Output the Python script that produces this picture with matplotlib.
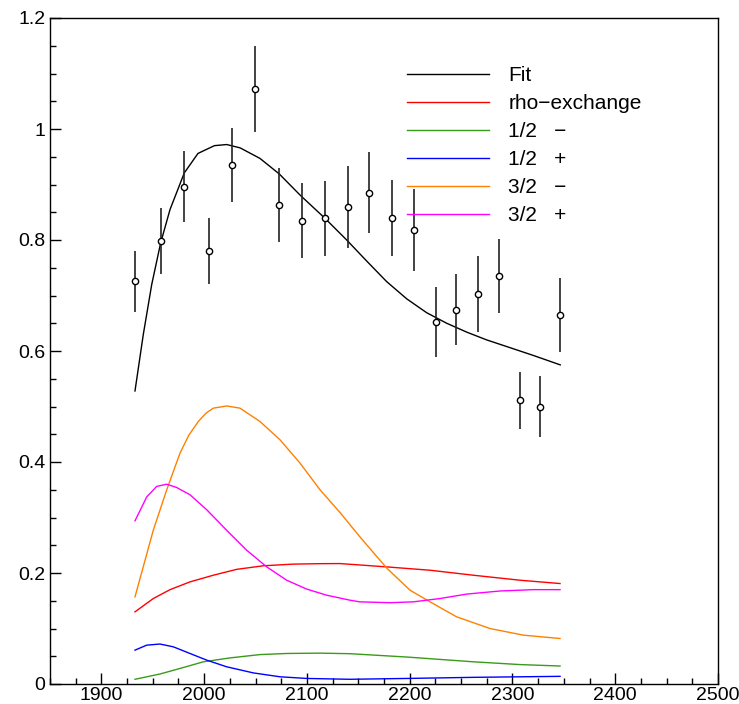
import matplotlib.pyplot as plt
import numpy as np
from matplotlib.ticker import MultipleLocator

plt.rcParams['font.family'] = ['Liberation Sans', 'DejaVu Sans']

# data points with errors
mass = [1932.7, 1957.7, 1980.7, 2004.4, 2027.4, 2049.5, 2073.1, 2094.9, 2117.6, 2139.7,
        2160.7, 2182.8, 2203.9, 2225.3, 2245.4, 2266.2, 2287.2, 2307.0, 2327.1, 2346.5]
value = [0.726, 0.798, 0.896, 0.780, 0.935, 1.072, 0.863, 0.835, 0.839, 0.860,
         0.885, 0.840, 0.818, 0.652, 0.674, 0.703, 0.735, 0.511, 0.500, 0.665]
error = [0.055, 0.060, 0.064, 0.060, 0.067, 0.077, 0.067, 0.068, 0.068, 0.074,
         0.073, 0.068, 0.073, 0.063, 0.064, 0.068, 0.067, 0.051, 0.055, 0.066]

# fit curve
fit_x = [1932.7, 1940.8, 1949.0, 1957.7, 1966.8, 1980.7, 1994.0, 2010.0, 2022.0, 2035.0,
         2054.3, 2073.1, 2093.3, 2117.6, 2138.7, 2158.2, 2177.6, 2197.1, 2216.5, 2236.0,
         2255.5, 2274.9, 2294.4, 2320.3, 2346.5]
fit_y = [0.528, 0.630, 0.720, 0.795, 0.855, 0.921, 0.956, 0.970, 0.972, 0.966,
         0.947, 0.919, 0.881, 0.839, 0.800, 0.762, 0.725, 0.694, 0.669, 0.650,
         0.634, 0.620, 0.608, 0.592, 0.575]

# rho-exchange
rho_x = [1932.7, 1950.5, 1966.8, 1986.2, 2008.9, 2031.7, 2057.6, 2086.7, 2112.7, 2132.2,
         2177.6, 2219.8, 2261.9, 2307.3, 2346.3]
rho_y = [0.130, 0.154, 0.170, 0.184, 0.196, 0.2066, 0.213, 0.216, 0.2168, 0.217,
         0.211, 0.205, 0.196, 0.187, 0.181]

# 1/2 -
g_x = [1932.7, 1957.0, 1976.5, 1999.2, 2025.1, 2054.3, 2080.3, 2112.7, 2141.9, 2197.1,
       2261.9, 2307.3, 2346.3]
g_y = [0.0085, 0.018, 0.028, 0.040, 0.047, 0.053, 0.055, 0.0556, 0.0546, 0.0486,
       0.040, 0.035, 0.0324]

# 1/2 +
b_x = [1932.7, 1944.1, 1957.0, 1970.0, 1986.2, 2002.5, 2021.9, 2047.8, 2073.8, 2099.8,
       2141.9, 2197.1, 2261.9, 2346.3]
b_y = [0.061, 0.070, 0.072, 0.067, 0.055, 0.043, 0.031, 0.020, 0.013, 0.010,
       0.0085, 0.010, 0.012, 0.0138]

# 3/2 -
o_x = [1932.7, 1950.5, 1963.6, 1976.5, 1985.0, 1994.3, 2001.8, 2008.9, 2021.9, 2034.9,
       2054.3, 2073.8, 2093.3, 2112.7, 2132.2, 2151.6, 2177.6, 2200.3, 2219.8, 2245.7,
       2278.1, 2310.6, 2346.3]
o_y = [0.157, 0.277, 0.350, 0.416, 0.448, 0.473, 0.488, 0.497, 0.501, 0.497,
       0.473, 0.440, 0.398, 0.350, 0.309, 0.265, 0.209, 0.169, 0.148, 0.121,
       0.100, 0.088, 0.082]

# 3/2 +
m_x = [1932.7, 1944.1, 1953.8, 1963.6, 1973.3, 1986.2, 2002.5, 2021.9, 2041.4, 2060.9,
       2080.3, 2099.8, 2119.2, 2141.9, 2151.6, 2180.8, 2203.5, 2229.5, 2255.5, 2287.9,
       2320.3, 2346.3]
m_y = [0.294, 0.337, 0.356, 0.360, 0.354, 0.341, 0.314, 0.277, 0.241, 0.211,
       0.187, 0.171, 0.160, 0.151, 0.148, 0.1465, 0.148, 0.154, 0.162, 0.1676,
       0.170, 0.170]

fig = plt.figure(figsize=(7.39, 7.04), dpi=100)
ax = fig.add_axes([50 / 739, 20 / 704, 668 / 739, 666 / 704])

lw = 1.0
lines = []
lines.append(ax.plot(fit_x, fit_y, color="black", lw=lw, label="Fit")[0])
lines.append(ax.plot(rho_x, rho_y, color="#ff0000", lw=lw, label="rho\u2212exchange")[0])
lines.append(ax.plot(g_x, g_y, color="#3a9a1a", lw=lw, label="1/2   \u2212")[0])
lines.append(ax.plot(b_x, b_y, color="#0000ff", lw=lw, label="1/2   +")[0])
lines.append(ax.plot(o_x, o_y, color="#ff8000", lw=lw, label="3/2   \u2212")[0])
lines.append(ax.plot(m_x, m_y, color="#ff00ff", lw=lw, label="3/2   +")[0])

ax.errorbar(mass, value, yerr=error, fmt="o", color="black", ecolor="#222222",
            elinewidth=1.2, capsize=0, ms=4.5, mfc="white", mec="black", mew=1.0, zorder=5)

ax.set_xlim(1850, 2500)
ax.set_ylim(0, 1.2)
ax.xaxis.set_major_locator(MultipleLocator(100))
ax.xaxis.set_minor_locator(MultipleLocator(25))
ax.yaxis.set_major_locator(MultipleLocator(0.2))
ax.yaxis.set_minor_locator(MultipleLocator(0.05))
ax.set_yticks([0, 0.2, 0.4, 0.6, 0.8, 1.0, 1.2])
ax.set_yticklabels(["0", "0.2", "0.4", "0.6", "0.8", "1", "1.2"])
ax.tick_params(which="both", direction="in", labelsize=14, width=1)
ax.tick_params(which="major", length=8)
ax.tick_params(which="minor", length=4)
ax.tick_params(axis="x", pad=2)
for s in ax.spines.values():
    s.set_linewidth(1.0)

ax.legend(handles=lines, loc="upper left", bbox_to_anchor=(0.5225, 0.94), frameon=False,
          fontsize=15, handlelength=3.9, handletextpad=0.95, labelspacing=0.43,
          borderaxespad=0)

fig.savefig("out.png", dpi=100)
